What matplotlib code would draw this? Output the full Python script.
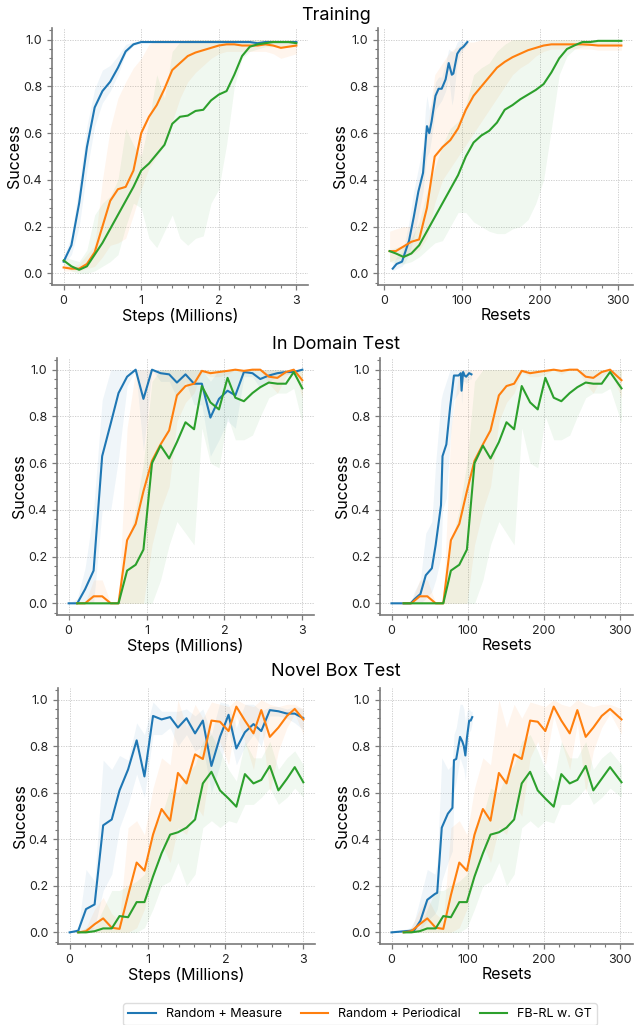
import numpy as np
import matplotlib
matplotlib.use("Agg")
import matplotlib.pyplot as plt
from matplotlib.ticker import AutoMinorLocator

plt.rcParams['font.family'] = ['Inter', 'DejaVu Sans']

BLUE = "#1f77b4"
ORANGE = "#ff7f0e"
GREEN = "#2ca02c"

# ---------------- Training (smoothed curves) ----------------
train_steps = [0.0, 0.1, 0.2, 0.3, 0.4, 0.5, 0.6, 0.7, 0.8, 0.9, 1.0, 1.1, 1.2, 1.3, 1.4, 1.5,
               1.6, 1.7, 1.8, 1.9, 2.0, 2.1, 2.2, 2.3, 2.4, 2.5, 2.6, 2.7, 2.8, 2.9, 3.0]
train_blue = [0.05, 0.12, 0.3, 0.54, 0.71, 0.78, 0.82, 0.88, 0.95, 0.98, 0.99, 0.99, 0.99, 0.99, 0.99, 0.99,
              0.99, 0.99, 0.99, 0.99, 0.99, 0.99, 0.99, 0.99, 0.99, 0.985, 0.99, 0.99, 0.99, 0.99, 0.99]
train_blue_lo = [0.04, 0.08, 0.2, 0.44, 0.63, 0.73, 0.78, 0.85, 0.94, 0.975, 0.985, 0.985, 0.985, 0.985, 0.985, 0.985,
                 0.985, 0.985, 0.985, 0.985, 0.985, 0.985, 0.985, 0.985, 0.985, 0.98, 0.985, 0.985, 0.985, 0.985, 0.985]
train_blue_hi = [0.07, 0.16, 0.38, 0.63, 0.79, 0.87, 0.89, 0.93, 0.98, 0.99, 0.995, 0.995, 0.995, 0.995, 0.995, 0.995,
                 0.995, 0.995, 0.995, 0.995, 0.995, 0.995, 0.995, 0.995, 0.995, 0.99, 0.995, 0.995, 0.995, 0.995, 0.995]
train_orange = [0.025, 0.02, 0.02, 0.04, 0.09, 0.2, 0.31, 0.36, 0.37, 0.44, 0.6, 0.67, 0.72, 0.79, 0.87, 0.9,
                0.93, 0.945, 0.955, 0.965, 0.975, 0.98, 0.98, 0.975, 0.975, 0.975, 0.98, 0.975, 0.965, 0.97, 0.975]
train_orange_lo = [0.01, 0.01, 0.01, 0.02, 0.03, 0.07, 0.12, 0.13, 0.15, 0.25, 0.36, 0.45, 0.5, 0.55, 0.65, 0.75,
                   0.82, 0.86, 0.89, 0.92, 0.94, 0.95, 0.95, 0.95, 0.95, 0.95, 0.95, 0.94, 0.92, 0.93, 0.94]
train_orange_hi = [0.04, 0.03, 0.04, 0.08, 0.12, 0.4, 0.62, 0.75, 0.82, 0.88, 0.92, 0.98, 1.0, 1.0, 1.0, 1.0,
                   1.0, 1.0, 1.0, 1.0, 1.0, 1.0, 1.0, 1.0, 1.0, 1.0, 1.0, 1.0, 0.99, 0.99, 0.99]
train_green = [0.055, 0.03, 0.015, 0.03, 0.08, 0.13, 0.19, 0.25, 0.31, 0.37, 0.44, 0.47, 0.51, 0.55, 0.64, 0.67,
               0.675, 0.695, 0.7, 0.74, 0.765, 0.78, 0.85, 0.93, 0.97, 0.98, 0.985, 0.99, 0.99, 0.99, 0.985]
train_green_lo = [0.04, 0.01, 0.0, 0.0, 0.01, 0.03, 0.05, 0.08, 0.2, 0.3, 0.28, 0.15, 0.11, 0.18, 0.25, 0.15,
                  0.12, 0.15, 0.16, 0.3, 0.36, 0.55, 0.8, 0.92, 0.95, 0.96, 0.97, 0.97, 0.97, 0.97, 0.97]
train_green_hi = [0.07, 0.06, 0.05, 0.1, 0.25, 0.3, 0.33, 0.4, 0.62, 0.55, 0.5, 0.65, 0.85, 0.75, 0.95, 0.99,
                  1.0, 1.0, 1.0, 1.0, 1.0, 1.0, 1.0, 1.0, 1.0, 1.0, 1.0, 1.0, 1.0, 1.0, 1.0]

train_resets = [7, 15, 25, 35, 45, 55, 65, 75, 85, 95, 105, 115, 125, 135, 145, 155,
                165, 175, 185, 195, 205, 215, 225, 235, 245, 255, 265, 275, 285, 295, 305]
train_r_orange = [0.095, 0.095, 0.115, 0.135, 0.145, 0.28, 0.5, 0.54, 0.57, 0.62, 0.7, 0.76, 0.8, 0.84, 0.88, 0.905,
                  0.925, 0.94, 0.955, 0.965, 0.975, 0.98, 0.98, 0.98, 0.98, 0.98, 0.978, 0.975, 0.975, 0.975, 0.975]
train_r_orange_lo = [0.05, 0.06, 0.07, 0.08, 0.1, 0.15, 0.3, 0.4, 0.45, 0.5, 0.55, 0.6, 0.65, 0.7, 0.75, 0.8,
                     0.85, 0.88, 0.9, 0.93, 0.95, 0.96, 0.96, 0.96, 0.96, 0.96, 0.96, 0.955, 0.955, 0.955, 0.955]
train_r_orange_hi = [0.18, 0.19, 0.2, 0.2, 0.35, 0.6, 0.85, 0.9, 0.95, 0.97, 0.99, 0.99, 1.0, 1.0, 1.0, 1.0,
                     1.0, 1.0, 1.0, 1.0, 1.0, 1.0, 1.0, 1.0, 1.0, 1.0, 1.0, 0.99, 0.99, 0.99, 0.99]
train_r_green = [0.095, 0.085, 0.07, 0.085, 0.12, 0.18, 0.24, 0.3, 0.36, 0.42, 0.5, 0.56, 0.59, 0.61, 0.645, 0.7,
                 0.72, 0.745, 0.765, 0.785, 0.81, 0.86, 0.92, 0.96, 0.976, 0.99, 0.99, 0.995, 0.995, 0.995, 0.995]
train_r_green_lo = [0.05, 0.045, 0.04, 0.05, 0.07, 0.1, 0.13, 0.14, 0.2, 0.26, 0.26, 0.22, 0.2, 0.18, 0.17, 0.17,
                    0.19, 0.2, 0.23, 0.3, 0.4, 0.62, 0.85, 0.93, 0.96, 0.97, 0.975, 0.98, 0.98, 0.98, 0.98]
train_r_green_hi = [0.1, 0.11, 0.12, 0.15, 0.22, 0.35, 0.45, 0.55, 0.62, 0.65, 0.72, 0.85, 0.88, 0.9, 0.95, 0.98,
                    1.0, 1.0, 1.0, 1.0, 1.0, 1.0, 1.0, 1.0, 1.0, 1.0, 1.0, 1.0, 1.0, 1.0, 1.0]
train_r_blue_x = [11, 16, 23, 27, 32, 38, 44, 50, 53, 55, 58, 61, 66, 70, 74, 79, 83, 87, 89, 94, 98, 102, 107]
train_r_blue = [0.02, 0.04, 0.05, 0.09, 0.14, 0.24, 0.35, 0.43, 0.55, 0.63, 0.6, 0.65, 0.76, 0.79, 0.79, 0.83,
                0.9, 0.85, 0.855, 0.94, 0.96, 0.97, 0.99]
train_r_blue_lo = [0.01, 0.02, 0.03, 0.05, 0.08, 0.15, 0.25, 0.35, 0.45, 0.5, 0.52, 0.58, 0.7, 0.72, 0.74, 0.78,
                   0.84, 0.72, 0.75, 0.9, 0.94, 0.96, 0.98]
train_r_blue_hi = [0.04, 0.07, 0.09, 0.14, 0.22, 0.35, 0.45, 0.55, 0.7, 0.76, 0.7, 0.73, 0.82, 0.84, 0.84, 0.9,
                   0.96, 0.95, 0.95, 0.99, 1.0, 0.99, 1.0]

# ---------------- Evaluation grid (steps / resets) ----------------
eval_steps = [0.0, 0.11, 0.21, 0.32, 0.43, 0.54, 0.64, 0.75, 0.86, 0.96, 1.07, 1.18, 1.29, 1.39, 1.5,
              1.61, 1.71, 1.82, 1.93, 2.04, 2.14, 2.25, 2.36, 2.46, 2.57, 2.68, 2.79, 2.89, 3.0]
eval_resets = [16, 26, 37, 47, 58, 68, 78, 89, 99, 109, 120, 130, 141, 151,
               161, 171, 182, 192, 202, 213, 223, 234, 244, 255, 265, 276, 287, 302]

# In Domain Test
dom_blue = [0.0, 0.0, 0.06, 0.14, 0.63, 0.77, 0.9, 0.97, 1.0, 0.875, 1.0, 0.985, 0.98, 0.945, 0.98,
            0.94, 0.94, 0.795, 0.875, 0.91, 0.89, 0.99, 0.985, 0.96, 0.975, 0.985, 0.99, 0.99, 1.0]
dom_blue_lo = [0.0, 0.0, 0.0, 0.0, 0.4, 0.4, 0.62, 0.93, 1.0, 0.65, 1.0, 0.95, 0.95, 0.88, 0.95,
               0.85, 0.85, 0.63, 0.7, 0.78, 0.75, 0.97, 0.97, 0.92, 0.95, 0.97, 0.98, 0.98, 1.0]
dom_blue_hi = [0.0, 0.02, 0.15, 0.4, 0.87, 1.0, 1.0, 1.0, 1.0, 1.0, 1.0, 1.0, 1.0, 1.0, 1.0,
               1.0, 1.0, 0.95, 1.0, 1.0, 1.0, 1.0, 1.0, 1.0, 1.0, 1.0, 1.0, 1.0, 1.0]
dom_orange = [0.0, 0.0, 0.03, 0.03, 0.0, 0.0, 0.27, 0.34, 0.48, 0.61, 0.68, 0.74, 0.89, 0.93,
              0.94, 0.995, 0.985, 0.99, 0.995, 1.0, 0.995, 1.0, 1.0, 0.97, 0.965, 0.99, 1.0, 0.955]
dom_orange_lo = [0.0, 0.0, 0.0, 0.0, 0.0, 0.0, 0.0, 0.0, 0.0, 0.25, 0.4, 0.5, 0.78, 0.86,
                 0.9, 0.99, 0.97, 0.97, 0.98, 1.0, 0.98, 1.0, 1.0, 0.94, 0.9, 0.97, 1.0, 0.88]
dom_orange_hi = [0.0, 0.0, 0.1, 0.1, 0.0, 0.0, 0.75, 1.0, 1.0, 1.0, 1.0, 1.0, 1.0, 1.0,
                 1.0, 1.0, 1.0, 1.0, 1.0, 1.0, 1.0, 1.0, 1.0, 1.0, 1.0, 1.0, 1.0, 1.0]
dom_green = [0.0, 0.0, 0.0, 0.0, 0.0, 0.0, 0.14, 0.165, 0.23, 0.6, 0.675, 0.62, 0.69, 0.775,
             0.745, 0.93, 0.86, 0.83, 0.965, 0.88, 0.865, 0.9, 0.925, 0.945, 0.94, 0.94, 0.99, 0.92]
dom_green_lo = [0.0, 0.0, 0.0, 0.0, 0.0, 0.0, 0.0, 0.0, 0.0, 0.0, 0.1, 0.25, 0.35, 0.3,
                0.25, 0.75, 0.6, 0.58, 0.8, 0.7, 0.7, 0.72, 0.8, 0.88, 0.9, 0.9, 0.92, 0.77]
dom_green_hi = [0.0, 0.0, 0.0, 0.0, 0.0, 0.0, 0.25, 0.4, 0.6, 0.95, 1.0, 1.0, 1.0, 1.0,
                1.0, 1.0, 1.0, 1.0, 1.0, 1.0, 1.0, 1.0, 1.0, 1.0, 1.0, 1.0, 1.0, 1.0]
dom_r_blue_x = [0, 25, 30, 38, 45, 53, 58, 65, 67, 72, 77, 82, 88, 91, 92, 94, 96, 98, 102, 105]
dom_r_blue = [0.0, 0.0, 0.017, 0.04, 0.12, 0.15, 0.25, 0.42, 0.63, 0.68, 0.84, 0.975, 0.975, 0.985,
              0.91, 0.99, 0.975, 0.97, 0.985, 0.98]
dom_r_blue_lo = [0.0, 0.0, 0.0, 0.0, 0.02, 0.05, 0.1, 0.2, 0.4, 0.45, 0.7, 0.87, 0.9, 0.95,
                 0.85, 0.95, 0.95, 0.94, 0.96, 0.96]
dom_r_blue_hi = [0.0, 0.0, 0.05, 0.1, 0.3, 0.35, 0.6, 0.87, 0.9, 0.95, 1.0, 1.0, 1.0, 1.0,
                 1.0, 1.0, 1.0, 1.0, 1.0, 1.0]

# Novel Box Test
nov_blue = [0.0, 0.007, 0.1, 0.12, 0.46, 0.485, 0.61, 0.7, 0.825, 0.67, 0.93, 0.915, 0.925, 0.88, 0.92,
            0.855, 0.91, 0.715, 0.84, 0.935, 0.79, 0.86, 0.895, 0.865, 0.955, 0.95, 0.94, 0.94, 0.92]
nov_blue_lo = [0.0, 0.0, 0.0, 0.02, 0.18, 0.25, 0.45, 0.55, 0.68, 0.58, 0.85, 0.85, 0.88, 0.8, 0.85,
               0.78, 0.8, 0.6, 0.72, 0.87, 0.72, 0.8, 0.85, 0.8, 0.93, 0.93, 0.92, 0.9, 0.87]
nov_blue_hi = [0.0, 0.02, 0.27, 0.22, 0.74, 0.7, 0.76, 0.74, 0.9, 0.85, 0.99, 0.95, 0.95, 0.95, 0.96,
               0.93, 0.96, 0.85, 0.99, 0.98, 0.88, 0.98, 0.98, 0.95, 0.97, 0.97, 0.96, 0.97, 0.96]
nov_orange = [0.0, 0.005, 0.035, 0.06, 0.02, 0.015, 0.16, 0.3, 0.265, 0.42, 0.53, 0.48, 0.685, 0.64,
              0.765, 0.745, 0.91, 0.905, 0.865, 0.97, 0.91, 0.855, 0.955, 0.84, 0.88, 0.93, 0.96, 0.915]
nov_orange_lo = [0.0, 0.0, 0.0, 0.0, 0.0, 0.0, 0.0, 0.02, 0.1, 0.25, 0.38, 0.3, 0.45, 0.42,
                 0.55, 0.5, 0.75, 0.82, 0.72, 0.93, 0.82, 0.7, 0.9, 0.6, 0.78, 0.88, 0.94, 0.85]
nov_orange_hi = [0.0, 0.02, 0.1, 0.15, 0.08, 0.05, 0.45, 0.48, 0.42, 0.62, 0.75, 0.72, 1.0, 0.88,
                 0.98, 0.92, 0.99, 0.98, 0.97, 1.0, 0.98, 0.97, 1.0, 0.98, 0.97, 0.98, 0.98, 0.96]
nov_green = [0.0, 0.0, 0.005, 0.017, 0.017, 0.07, 0.065, 0.13, 0.13, 0.24, 0.34, 0.42, 0.43, 0.45,
             0.485, 0.64, 0.69, 0.61, 0.575, 0.54, 0.68, 0.64, 0.655, 0.715, 0.61, 0.66, 0.71, 0.645]
nov_green_lo = [0.0, 0.0, 0.0, 0.0, 0.0, 0.0, 0.0, 0.0, 0.02, 0.1, 0.2, 0.22, 0.3, 0.2,
                0.25, 0.45, 0.48, 0.45, 0.48, 0.47, 0.55, 0.55, 0.58, 0.62, 0.55, 0.58, 0.62, 0.58]
nov_green_hi = [0.0, 0.02, 0.02, 0.1, 0.18, 0.18, 0.2, 0.22, 0.25, 0.45, 0.5, 0.62, 0.6, 0.68,
                0.72, 0.82, 0.85, 0.78, 0.7, 0.65, 0.82, 0.75, 0.75, 0.82, 0.7, 0.75, 0.78, 0.72]
nov_r_blue_x = [0, 25, 30, 38, 47, 57, 60, 66, 74, 80, 82, 85, 90, 93, 95, 97, 99, 102, 104, 106]
nov_r_blue = [0.0, 0.007, 0.01, 0.05, 0.14, 0.165, 0.17, 0.45, 0.51, 0.535, 0.74, 0.745, 0.84, 0.82,
              0.8, 0.76, 0.835, 0.91, 0.91, 0.925]
nov_r_blue_lo = [0.0, 0.0, 0.0, 0.01, 0.05, 0.08, 0.1, 0.22, 0.3, 0.35, 0.6, 0.65, 0.75, 0.72,
                 0.7, 0.65, 0.75, 0.86, 0.87, 0.9]
nov_r_blue_hi = [0.0, 0.02, 0.05, 0.15, 0.27, 0.25, 0.3, 0.75, 0.7, 0.72, 0.85, 0.88, 0.98, 0.98,
                 0.96, 0.9, 0.95, 0.96, 0.95, 0.95]

labels = ["Random + Measure", "Random + Periodical", "FB-RL w. GT"]

W, H = 637, 1025


def px_axes(fig, left, top, right, bottom):
    return fig.add_axes([left / W, 1 - bottom / H, (right - left) / W, (bottom - top) / H])


def style(ax, xlabel):
    ax.set_ylim(-0.05, 1.05)
    ax.set_yticks([0.0, 0.2, 0.4, 0.6, 0.8, 1.0])
    ax.xaxis.set_minor_locator(AutoMinorLocator(5))
    ax.yaxis.set_minor_locator(AutoMinorLocator(5))
    ax.grid(True, which="major", color="#c8c8c8", linestyle=(0, (1.5, 1.5)), linewidth=0.6)
    ax.set_axisbelow(True)
    for s in ["top", "right"]:
        ax.spines[s].set_visible(False)
    for s in ["left", "bottom"]:
        ax.spines[s].set_color("#7a7a7a")
        ax.spines[s].set_linewidth(1.2)
    ax.tick_params(which="major", length=3.5, width=0.9, color="#7a7a7a", labelsize=9, labelcolor="#222222")
    ax.tick_params(which="minor", length=2, width=0.8, color="#7a7a7a")
    ax.set_xlabel(xlabel, fontsize=11.5, labelpad=1)
    ax.set_ylabel("Success", fontsize=11.5, labelpad=0.5)


def curve(ax, x, y, lo, hi, color, label):
    ax.fill_between(x, lo, hi, color=color, alpha=0.07, linewidth=0)
    ax.plot(x, y, color=color, linewidth=1.5, label=label)


def main() -> None:
    fig = plt.figure(figsize=(W / 100, H / 100), dpi=100)

    # Training
    ax = px_axes(fig, 52, 28, 308, 285)
    curve(ax, train_steps, train_blue, train_blue_lo, train_blue_hi, BLUE, labels[0])
    curve(ax, train_steps, train_orange, train_orange_lo, train_orange_hi, ORANGE, labels[1])
    curve(ax, train_steps, train_green, train_green_lo, train_green_hi, GREEN, labels[2])
    ax.set_xticks([0, 1, 2, 3])
    style(ax, "Steps (Millions)")
    first = ax

    ax = px_axes(fig, 378, 28, 633, 285)
    curve(ax, train_r_blue_x, train_r_blue, train_r_blue_lo, train_r_blue_hi, BLUE, labels[0])
    curve(ax, train_resets, train_r_orange, train_r_orange_lo, train_r_orange_hi, ORANGE, labels[1])
    curve(ax, train_resets, train_r_green, train_r_green_lo, train_r_green_hi, GREEN, labels[2])
    ax.set_xticks([0, 100, 200, 300])
    style(ax, "Resets")

    # In Domain Test
    ax = px_axes(fig, 57, 358, 314, 615)
    curve(ax, eval_steps, dom_blue, dom_blue_lo, dom_blue_hi, BLUE, labels[0])
    curve(ax, eval_steps[1:], dom_orange, dom_orange_lo, dom_orange_hi, ORANGE, labels[1])
    curve(ax, eval_steps[1:], dom_green, dom_green_lo, dom_green_hi, GREEN, labels[2])
    ax.set_xticks([0, 1, 2, 3])
    style(ax, "Steps (Millions)")

    ax = px_axes(fig, 380, 358, 633, 615)
    curve(ax, dom_r_blue_x, dom_r_blue, dom_r_blue_lo, dom_r_blue_hi, BLUE, labels[0])
    curve(ax, eval_resets, dom_orange, dom_orange_lo, dom_orange_hi, ORANGE, labels[1])
    curve(ax, eval_resets, dom_green, dom_green_lo, dom_green_hi, GREEN, labels[2])
    ax.set_xticks([0, 100, 200, 300])
    style(ax, "Resets")

    # Novel Box Test
    ax = px_axes(fig, 58, 688, 315, 944)
    curve(ax, eval_steps, nov_blue, nov_blue_lo, nov_blue_hi, BLUE, labels[0])
    curve(ax, eval_steps[1:], nov_orange, nov_orange_lo, nov_orange_hi, ORANGE, labels[1])
    curve(ax, eval_steps[1:], nov_green, nov_green_lo, nov_green_hi, GREEN, labels[2])
    ax.set_xticks([0, 1, 2, 3])
    style(ax, "Steps (Millions)")

    ax = px_axes(fig, 380, 688, 633, 944)
    curve(ax, nov_r_blue_x, nov_r_blue, nov_r_blue_lo, nov_r_blue_hi, BLUE, labels[0])
    curve(ax, eval_resets, nov_orange, nov_orange_lo, nov_orange_hi, ORANGE, labels[1])
    curve(ax, eval_resets, nov_green, nov_green_lo, nov_green_hi, GREEN, labels[2])
    ax.set_xticks([0, 100, 200, 300])
    style(ax, "Resets")

    for title, y in [("Training", 15), ("In Domain Test", 344), ("Novel Box Test", 672)]:
        fig.text(336 / W, 1 - y / H, title, ha="center", va="center", fontsize=13)

    handles, labs = first.get_legend_handles_labels()
    fig.legend(handles, labs, loc="upper center", bbox_to_anchor=(360 / W, 1 - 997 / H), ncol=3,
               fontsize=9, frameon=True, edgecolor="#dddddd", fancybox=True, framealpha=1,
               columnspacing=1.5, handlelength=2.2, handletextpad=0.8)

    fig.savefig("out.png", dpi=100)


if __name__ == "__main__":
    main()
